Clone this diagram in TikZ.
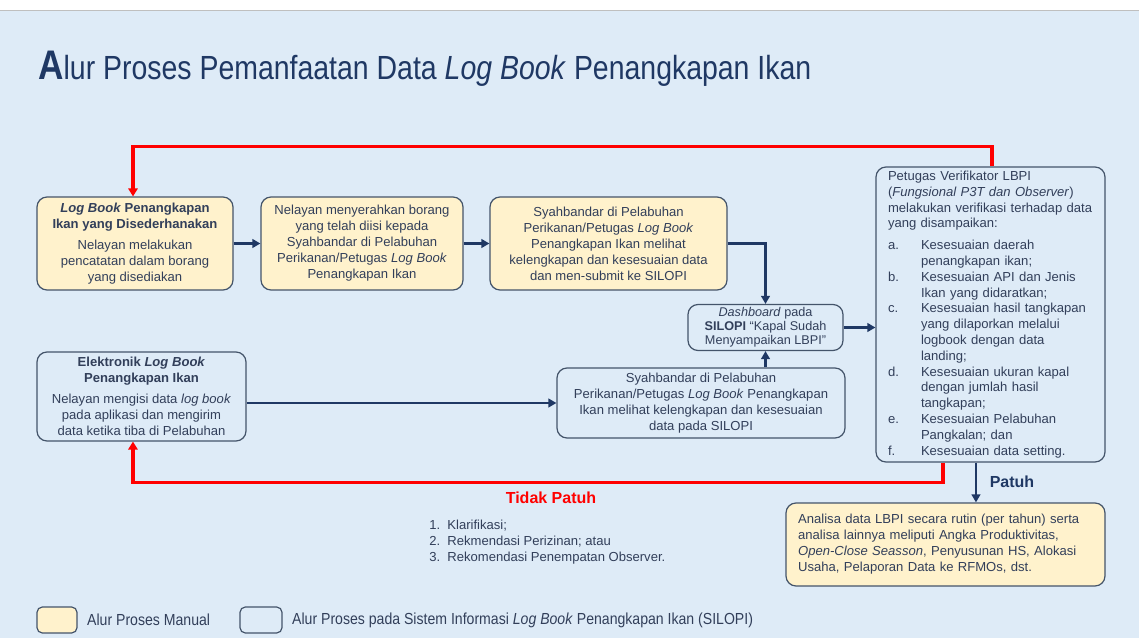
\documentclass[tikz,border=0pt]{standalone}
\usepackage{fontspec}
\setmainfont{Liberation Sans}
\newfontfamily\narrowfont[FakeStretch=0.85]{Liberation Sans}
\newfontfamily\legendnarrow[FakeStretch=0.88]{Liberation Sans}
\usetikzlibrary{arrows.meta}
\usetikzlibrary{positioning}
\definecolor{bgblue}{RGB}{222,235,247}
\definecolor{manualfill}{RGB}{255,242,204}
\definecolor{boxline}{RGB}{68,84,106}
\definecolor{flownavy}{RGB}{31,56,100}
\definecolor{bodytext}{RGB}{50,63,90}
\definecolor{alarmred}{RGB}{255,0,0}
\newcommand*{\boxfont}{\fontsize{9.8}{12}\selectfont}
\newcommand*{\legendfont}{\legendnarrow\fontsize{12}{14}\selectfont}

\begin{document}
\begin{tikzpicture}[x=0.75pt,y=-0.75pt,
  box/.style = {rectangle, rounded corners=7.5pt, draw=boxline,
                line width=0.9pt, text=bodytext, font=\boxfont,
                align=center, inner sep=0pt},
  manual/.style = {box, fill=manualfill},
  silopi/.style = {box, fill=bgblue},
  flow/.style = {draw=flownavy, line width=1.8pt,
                 -{Triangle[length=6pt,width=6.5pt]}},
  reject/.style = {draw=alarmred, line width=2.4pt,
                   -{Triangle[length=6pt,width=7pt]}}]
		\useasboundingbox (0,0) rectangle (1139,638);
		\fill[bgblue] (0,10) rectangle (1139,638);
		\draw[black!25, line width=0.6pt] (0,10) -- (1139,10);
		% title
		\node[anchor=base west, inner sep=0pt, text=flownavy, font=\narrowfont] (title) at (38,80)
		  {{\fontsize{31}{31}\selectfont\bfseries A}{\fontsize{25.1}{25}\selectfont lur Proses Pemanfaatan Data \textit{Log Book} Penangkapan Ikan}};
		% upper row: manual flow
		\node[manual, minimum width=147pt, minimum height=69.75pt] (logA) at (135,243.5) {%
		  \textbf{\textit{Log Book} Penangkapan}\\ \textbf{Ikan yang Disederhanakan}\\[4pt]
		  Nelayan melakukan\\ pencatatan dalam borang\\ yang disediakan};
		\node[manual, minimum width=151.5pt, minimum height=69.75pt] (formB) at (362,243.5) {%
		  Nelayan menyerahkan borang\\ yang telah diisi kepada\\ Syahbandar di Pelabuhan\\
		  Perikanan/Petugas \textit{Log Book}\\ Penangkapan Ikan};
		\node[manual, minimum width=177.75pt, minimum height=69.75pt] (checkC) at (608.5,243.5) {%
		  Syahbandar di Pelabuhan\\ Perikanan/Petugas \textit{Log Book}\\ Penangkapan Ikan melihat\\
		  kelengkapan dan kesesuaian data\\ dan men-submit ke SILOPI};
		% SILOPI flow
		\node[silopi, minimum width=116.25pt, minimum height=34.5pt,
		      font=\fontsize{9.5}{10.6}\selectfont] (dash) at (765.5,327.5) {%
		  \textit{Dashboard} pada\\ \textbf{SILOPI} “Kapal Sudah\\ Menyampaikan LBPI”};
		\node[silopi, minimum width=156.75pt, minimum height=66.75pt] (elogE) at (141.5,396.5) {%
		  \textbf{Elektronik \textit{Log Book}}\\ \textbf{Penangkapan Ikan}\\[4pt]
		  Nelayan mengisi data \textit{log book}\\ pada aplikasi dan mengirim\\ data ketika tiba di Pelabuhan};
		\node[silopi, minimum width=216pt, minimum height=52.5pt] (checkF) at (701,403) {%
		  Syahbandar di Pelabuhan\\ Perikanan/Petugas \textit{Log Book} Penangkapan\\
		  Ikan melihat kelengkapan dan kesesuaian\\ data pada SILOPI};
		% verification
		\node[silopi, minimum width=171.75pt, minimum height=221.25pt, text width=153.75pt,
		      align=left, font=\fontsize{9.8}{11.85}\selectfont] (verif) at (990.5,314.5) {%
		  Petugas Verifikator LBPI\\ (\textit{Fungsional P3T dan Observer})\\
		  melakukan verifikasi terhadap data\\ yang disampaikan:
		  \list{}{\topsep=4.5pt\partopsep=0pt\itemsep=0pt\parsep=0pt
		    \leftmargin=24.75pt\labelwidth=0pt\labelsep=24.75pt\itemindent=0pt}%
		  \item[\rlap{a.}] Kesesuaian daerah\\ penangkapan ikan;
		  \item[\rlap{b.}] Kesesuaian API dan Jenis\\ Ikan yang didaratkan;
		  \item[\rlap{c.}] Kesesuaian hasil tangkapan\\ yang dilaporkan melalui\\ logbook dengan data\\ landing;
		  \item[\rlap{d.}] Kesesuaian ukuran kapal\\ dengan jumlah hasil\\ tangkapan;
		  \item[\rlap{e.}] Kesesuaian Pelabuhan\\ Pangkalan; dan
		  \item[\rlap{f.}] Kesesuaian data setting.
		  \endlist};
		\node[manual, minimum width=239.25pt, minimum height=62.25pt, text width=221pt,
		      align=left] (analisa) at (945.5,544.5) {%
		  Analisa data LBPI secara rutin (per tahun) serta\\ analisa lainnya meliputi Angka Produktivitas,\\
		  \textit{Open-Close Seasson}, Penyusunan HS, Alokasi\\ Usaha, Pelaporan Data ke RFMOs, dst.};
		% connectors
		\draw[flow] (logA) -- (formB);
		\draw[flow] (formB) -- (checkC);
		\draw[flow] (checkC.east) -| (dash.north);
		\draw[flow] (dash.south |- checkF.north) -- (dash.south);
		\draw[flow] (elogE.east |- checkF.west) -- (checkF.west);
		\draw[flow] (dash.east) -- (dash.east -| verif.west);
		\draw[flow] ([xshift=-10.9pt]verif.south) -- ([xshift=-10.9pt]verif.south |- analisa.north);
		\draw[reject] ([xshift=1.1pt]verif.north) -- ++(0,-20) -| ([xshift=-1.5pt]logA.north);
		\draw[reject] ([xshift=-35.6pt]verif.south) -- ++(0,20) -| ([xshift=-6.4pt]elogE.south);
		% outcome labels
		\node[text=flownavy, font=\fontsize{12}{14}\selectfont\bfseries] (patuh) at (1012,482) {Patuh};
		\node[text=alarmred, font=\fontsize{12}{14}\selectfont\bfseries] (tidak) at (551,498) {Tidak Patuh};
		\node[anchor=north west, inner sep=0pt, align=left, text=bodytext,
		      font=\fontsize{9.8}{12}\selectfont] (sanksi) at (429,519.5) {%
		  1.\ \ Klarifikasi;\\ 2.\ \ Rekmendasi Perizinan; atau\\ 3.\ \ Rekomendasi Penempatan Observer.};
		% legend
		\node[manual, rounded corners=4pt, minimum width=30pt, minimum height=19.5pt] (legmanual) at (57,620) {};
		\node[right=7pt of legmanual, inner sep=0pt, text=bodytext, font=\legendfont] (legmanualtext) {Alur Proses Manual};
		\node[silopi, rounded corners=4pt, minimum width=31.5pt, minimum height=19.5pt] (legsilopi) at (261,620) {};
		\node[right=7pt of legsilopi, inner sep=0pt, text=bodytext, font=\legendfont] (legsilopitext)
		  {Alur Proses pada Sistem Informasi \textit{Log Book} Penangkapan Ikan (SILOPI)};
\end{tikzpicture}
\end{document}
